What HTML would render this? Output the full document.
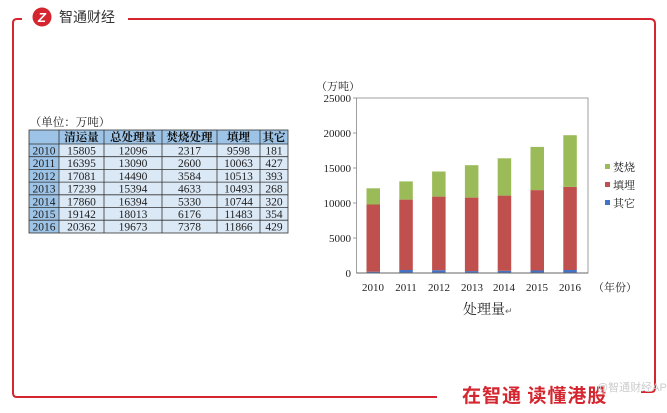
<!DOCTYPE html>
<html><head><meta charset="utf-8"><style>
body{margin:0;width:667px;height:408px;background:#fff;overflow:hidden;font-family:"Liberation Serif","Noto Serif CJK SC",serif;}
</style></head><body>
<svg width="667" height="408" viewBox="0 0 667 408" xmlns="http://www.w3.org/2000/svg">
<g fill="none" stroke="#d5262f" stroke-width="2">
<path d="M22 19 H17 Q13 19 13 23 V393 Q13 397 17 397 H437"/>
<path d="M128 19 H650 Q655 19 655 24 V388 Q655 392 651 392 H641"/>
</g>
<circle cx="42" cy="17" r="9.5" fill="#d5262f"/>
<text x="42" y="22" font-family="Liberation Sans,sans-serif" font-size="13" font-weight="bold" fill="#fff" text-anchor="middle" font-style="italic">Z</text>
<text x="59" y="22" font-family="Liberation Sans,'Noto Sans CJK SC',sans-serif" font-size="14" fill="#333">智通财经</text>
<text x="462" y="402" font-family="'Noto Sans CJK SC',sans-serif" font-size="19" font-weight="bold" fill="#d5262f" letter-spacing="1">在智通 读懂港股</text>
<text x="597" y="391" font-family="Liberation Sans,'Noto Sans CJK SC',sans-serif" font-size="11" fill="#ccc">@智通财经APP</text>

<g font-family="Liberation Serif,'Noto Serif CJK SC',serif" font-size="11.5" text-anchor="middle">
<text x="70" y="126" fill="#222">（单位：万吨）</text>
<rect x="29" y="130" width="259" height="14" fill="#9dc3e6"/>
<rect x="29" y="144" width="30" height="89" fill="#9dc3e6"/>
<rect x="59" y="144" width="229" height="89" fill="#dbe8f5"/>
<g stroke="#333" stroke-width="0.8">
<rect x="29" y="130" width="259" height="103" fill="none"/>
<line x1="59" y1="130" x2="59" y2="233"/><line x1="104" y1="130" x2="104" y2="233"/>
<line x1="162" y1="130" x2="162" y2="233"/><line x1="217" y1="130" x2="217" y2="233"/>
<line x1="260" y1="130" x2="260" y2="233"/>
<line x1="29" y1="144" x2="288" y2="144"/><line x1="29" y1="156.7" x2="288" y2="156.7"/>
<line x1="29" y1="169.4" x2="288" y2="169.4"/><line x1="29" y1="182.1" x2="288" y2="182.1"/>
<line x1="29" y1="194.8" x2="288" y2="194.8"/><line x1="29" y1="207.5" x2="288" y2="207.5"/>
<line x1="29" y1="220.2" x2="288" y2="220.2"/>
</g>
<g font-weight="bold" fill="#111"><text x="81.5" y="141">清运量</text><text x="133" y="141">总处理量</text><text x="189.5" y="141">焚烧处理</text><text x="238.5" y="141">填埋</text><text x="274" y="141">其它</text></g>
<g fill="#222">
<text x="44" y="154.5">2010</text><text x="81.5" y="154.5">15805</text><text x="133" y="154.5">12096</text><text x="189.5" y="154.5">2317</text><text x="238.5" y="154.5">9598</text><text x="274" y="154.5">181</text>
<text x="44" y="167.2">2011</text><text x="81.5" y="167.2">16395</text><text x="133" y="167.2">13090</text><text x="189.5" y="167.2">2600</text><text x="238.5" y="167.2">10063</text><text x="274" y="167.2">427</text>
<text x="44" y="179.9">2012</text><text x="81.5" y="179.9">17081</text><text x="133" y="179.9">14490</text><text x="189.5" y="179.9">3584</text><text x="238.5" y="179.9">10513</text><text x="274" y="179.9">393</text>
<text x="44" y="192.6">2013</text><text x="81.5" y="192.6">17239</text><text x="133" y="192.6">15394</text><text x="189.5" y="192.6">4633</text><text x="238.5" y="192.6">10493</text><text x="274" y="192.6">268</text>
<text x="44" y="205.3">2014</text><text x="81.5" y="205.3">17860</text><text x="133" y="205.3">16394</text><text x="189.5" y="205.3">5330</text><text x="238.5" y="205.3">10744</text><text x="274" y="205.3">320</text>
<text x="44" y="218">2015</text><text x="81.5" y="218">19142</text><text x="133" y="218">18013</text><text x="189.5" y="218">6176</text><text x="238.5" y="218">11483</text><text x="274" y="218">354</text>
<text x="44" y="230.7">2016</text><text x="81.5" y="230.7">20362</text><text x="133" y="230.7">19673</text><text x="189.5" y="230.7">7378</text><text x="238.5" y="230.7">11866</text><text x="274" y="230.7">429</text>
</g>
</g>

<g font-family="Liberation Serif,'Noto Serif CJK SC',serif" font-size="11" fill="#222">
<text x="316" y="90">（万吨）</text>
<g text-anchor="end">
<text x="351" y="102">25000</text><text x="351" y="137">20000</text><text x="351" y="172">15000</text>
<text x="351" y="207">10000</text><text x="351" y="242">5000</text><text x="351" y="277">0</text>
</g>
<rect x="356.5" y="98" width="231.5" height="175" fill="none" stroke="#888" stroke-width="0.8"/>
<g stroke="#888" stroke-width="0.8">
<line x1="353" y1="98" x2="357" y2="98"/><line x1="353" y1="133" x2="357" y2="133"/><line x1="353" y1="168" x2="357" y2="168"/>
<line x1="353" y1="203" x2="357" y2="203"/><line x1="353" y1="238" x2="357" y2="238"/>
</g>
<g>
<rect x="366.5" y="271.7" width="13.5" height="1.3" fill="#4472c4"/><rect x="366.5" y="204.5" width="13.5" height="67.2" fill="#c0504d"/><rect x="366.5" y="188.3" width="13.5" height="16.2" fill="#9bbb59"/>
<rect x="399.3" y="270" width="13.5" height="3" fill="#4472c4"/><rect x="399.3" y="199.6" width="13.5" height="70.4" fill="#c0504d"/><rect x="399.3" y="181.4" width="13.5" height="18.2" fill="#9bbb59"/>
<rect x="432.1" y="270.2" width="13.5" height="2.8" fill="#4472c4"/><rect x="432.1" y="196.6" width="13.5" height="73.6" fill="#c0504d"/><rect x="432.1" y="171.5" width="13.5" height="25.1" fill="#9bbb59"/>
<rect x="464.9" y="271.1" width="13.5" height="1.9" fill="#4472c4"/><rect x="464.9" y="197.6" width="13.5" height="73.5" fill="#c0504d"/><rect x="464.9" y="165.2" width="13.5" height="32.4" fill="#9bbb59"/>
<rect x="497.7" y="270.8" width="13.5" height="2.2" fill="#4472c4"/><rect x="497.7" y="195.6" width="13.5" height="75.2" fill="#c0504d"/><rect x="497.7" y="158.3" width="13.5" height="37.3" fill="#9bbb59"/>
<rect x="530.5" y="270.5" width="13.5" height="2.5" fill="#4472c4"/><rect x="530.5" y="190.1" width="13.5" height="80.4" fill="#c0504d"/><rect x="530.5" y="146.9" width="13.5" height="43.2" fill="#9bbb59"/>
<rect x="563.3" y="270" width="13.5" height="3" fill="#4472c4"/><rect x="563.3" y="186.9" width="13.5" height="83.1" fill="#c0504d"/><rect x="563.3" y="135.2" width="13.5" height="51.7" fill="#9bbb59"/>
</g>
<line x1="356.5" y1="273" x2="588" y2="273" stroke="#666" stroke-width="1"/>
<g text-anchor="middle">
<text x="373" y="291">2010</text><text x="406" y="291">2011</text><text x="439" y="291">2012</text><text x="472" y="291">2013</text><text x="504" y="291">2014</text><text x="537" y="291">2015</text><text x="570" y="291">2016</text>
</g>
<text x="593" y="291">（年份）</text>
<text x="463" y="314" font-size="14">处理量<tspan font-size="9" fill="#666">↵</tspan></text>
<rect x="605" y="164" width="5" height="5" fill="#9bbb59"/><text x="613" y="171">焚烧</text>
<rect x="605" y="182" width="5" height="5" fill="#c0504d"/><text x="613" y="189">填埋</text>
<rect x="605" y="200" width="5" height="5" fill="#4472c4"/><text x="613" y="207">其它</text>
</g>
</svg>
</body></html>
